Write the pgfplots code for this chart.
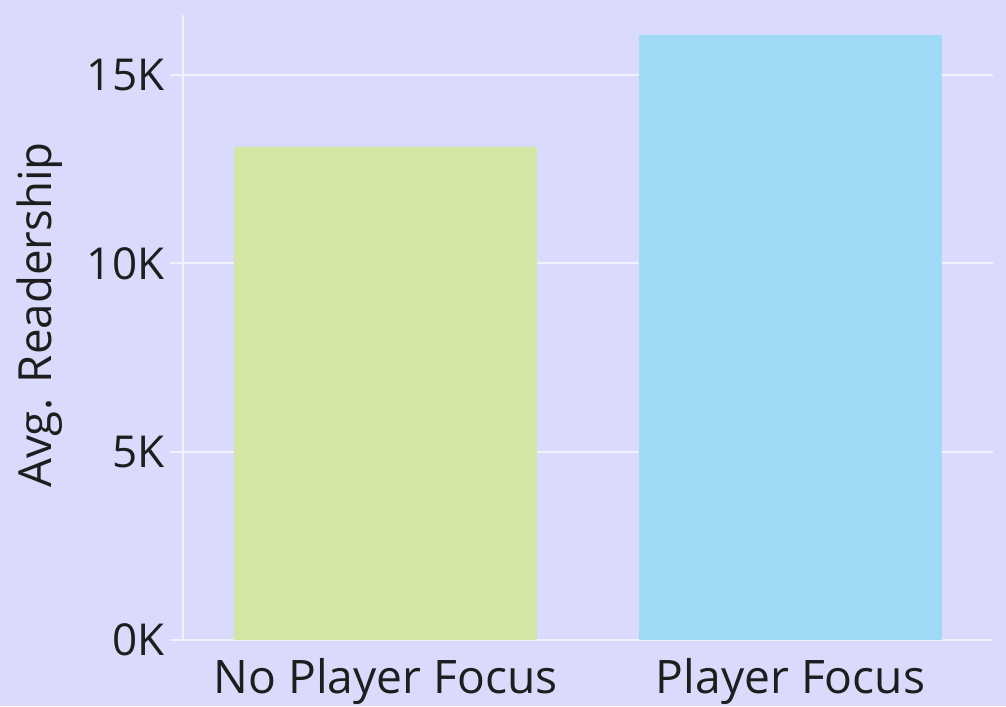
\documentclass[border=0pt]{standalone}
\usepackage{fontspec}
\setmainfont{Open Sans}
\usepackage{pgfplots}
\pgfplotsset{compat=1.18}
\usetikzlibrary{backgrounds,calc}
\definecolor{cBg}{HTML}{DADAFC}
\definecolor{cGreen}{HTML}{D4E6A6}
\definecolor{cBlue}{HTML}{9ED9F6}
\definecolor{cText}{HTML}{1E1E1E}
\definecolor{cGrid}{HTML}{F2F2FF}

\begin{document}
\begin{tikzpicture}[x=1pt,y=1pt]
\begin{axis}[scale only axis,width=243pt,height=187.5pt,
  xmin=-0.5,xmax=1.5,ymin=0,ymax=16600,
  axis lines*=left,axis line style={cGrid,line width=0.6pt},
  xtick={0,1},xticklabels={No Player Focus,Player Focus},
  major x tick style={draw=none},
  extra x ticks={-0.5,0.5,1.5},extra x tick labels={},
  extra x tick style={major tick length=2.4pt,tick style={cGrid,line width=0.6pt},grid=none},
  ytick={0,5000,10000,15000},yticklabels={0K,5K,10K,15K},
  ymajorgrids,grid style={cGrid,line width=0.6pt},
  y tick style={cGrid,line width=0.6pt},
  tick align=outside,major tick length=3.9pt,
  ylabel={Avg. Readership},
  ylabel style={at={(axis description cs:0,0.52)},anchor=south,yshift=32.5pt},
  yticklabel style={font=\fontsize{13.2}{15}\selectfont,text=cText,xshift=1.8pt},
  xticklabel style={font=\fontsize{13.85}{16}\selectfont,text=cText,yshift=1.8pt},
  label style={font=\fontsize{13.7}{16}\selectfont,text=cText},
  /pgf/number format/assume math mode=true,
  ybar,bar width=0.75,bar shift=0pt]
\addplot[draw=none,fill=cGreen] coordinates {(0,13090)};
\addplot[draw=none,fill=cBlue] coordinates {(1,16060)};
\end{axis}
\begin{scope}[on background layer]
\fill[cBg] ($(current axis.south west)+(-54.9pt,-19.8pt)$) rectangle ($(current axis.north east)+(3.9pt,4.5pt)$);
\end{scope}
\pgfresetboundingbox
\path ($(current axis.south west)+(-54.9pt,-19.8pt)$) rectangle ($(current axis.north east)+(3.9pt,4.5pt)$);
\end{tikzpicture}
\end{document}
